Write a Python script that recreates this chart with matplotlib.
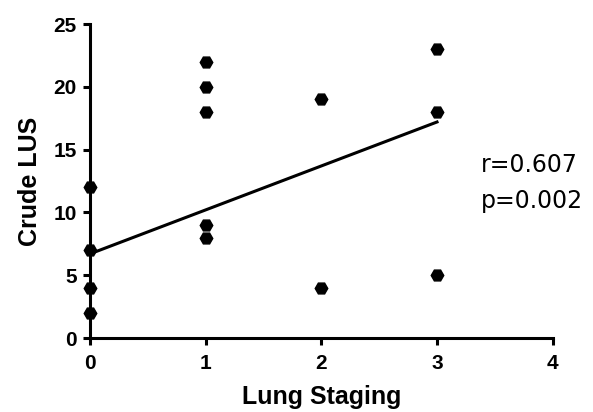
import matplotlib
matplotlib.use("Agg")
import matplotlib.pyplot as plt
import numpy as np

plt.rcParams['font.family'] = ['Liberation Sans', 'DejaVu Sans']

# Data
stage = [0, 0, 0, 0, 1, 1, 1, 1, 1, 2, 2, 3, 3, 3]
crude_lus = [12, 7, 4, 2, 22, 20, 18, 9, 8, 19, 4, 23, 18, 5]
fit_intercept = 6.7
fit_slope = 3.5
fit_x_range = [0, 3]
stats_text = ["r=0.607", "p=0.002"]
x_ticks = [0, 1, 2, 3, 4]
y_ticks = [0, 5, 10, 15, 20, 25]

fig = plt.figure(figsize=(5.93, 4.12), dpi=100)
ax = fig.add_axes([0.1518, 0.1796, 0.932 - 0.1518, 0.9417 - 0.1796])

fx = np.array(fit_x_range, dtype=float)
ax.plot(fx, fit_intercept + fit_slope * fx, color='black', lw=2.2, zorder=2, clip_on=False)
ax.plot(stage, crude_lus, linestyle='none', marker='H', markersize=9,
        color='black', zorder=3, clip_on=False)

ax.set_xlim(0, 4)
ax.set_ylim(0, 25)
ax.set_xticks(x_ticks)
ax.set_yticks(y_ticks)
for s in ['top', 'right']:
    ax.spines[s].set_visible(False)
for s in ['left', 'bottom']:
    ax.spines[s].set_linewidth(2.2)
ax.tick_params(axis='both', width=2.2, length=5, labelsize=15, colors='black')
ax.tick_params(axis='x', pad=6.5)
ax.tick_params(axis='y', pad=4.5)
for lbl in ax.get_xticklabels() + ax.get_yticklabels():
    lbl.set_fontweight('bold')

ax.set_xlabel('Lung Staging', fontsize=18, fontweight='bold', labelpad=9)
ax.set_ylabel('Crude LUS', fontsize=18, fontweight='bold', labelpad=8)

ax.text(0.845, 0.530, stats_text[0], transform=ax.transAxes,
        fontsize=17, ha='left', va='baseline', family='DejaVu Sans')
ax.text(0.845, 0.413, stats_text[1], transform=ax.transAxes,
        fontsize=17, ha='left', va='baseline', family='DejaVu Sans')

fig.savefig('out.png', dpi=100)
